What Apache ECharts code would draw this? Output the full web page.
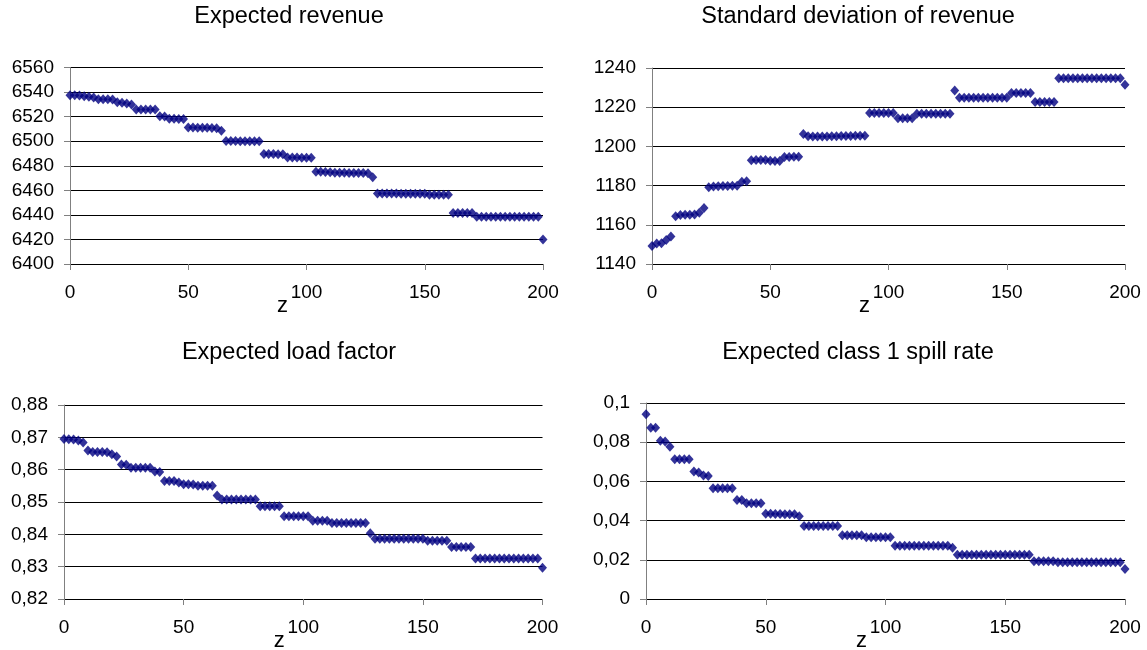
<!DOCTYPE html>
<html>
<head>
<meta charset="utf-8">
<script src="https://cdn.jsdelivr.net/npm/echarts@6/dist/echarts.min.js"></script>
<style>html,body{margin:0;padding:0;background:#fff;}#c{width:1147px;height:650px;}</style>
</head>
<body>
<div id="c"></div>
<script>
const zValues = [0,2,4,6,8,10,12,14,16,18,20,22,24,26,28,30,32,34,36,38,40,42,44,46,48,50,52,54,56,58,60,62,64,66,68,70,72,74,76,78,80,82,84,86,88,90,92,94,96,98,100,102,104,106,108,110,112,114,116,118,120,122,124,126,128,130,132,134,136,138,140,142,144,146,148,150,152,154,156,158,160,162,164,166,168,170,172,174,176,178,180,182,184,186,188,190,192,194,196,198,200];

const expectedRevenue = [6537.5,6537.4,6537.1,6536.6,6536.2,6535.5,6534.2,6534.1,6534.1,6534.0,6531.8,6531.2,6530.6,6529.8,6525.9,6525.8,6525.8,6525.7,6525.7,6520.4,6520.1,6518.3,6518.2,6518.1,6518.1,6511.2,6511.1,6511.0,6510.9,6510.9,6510.8,6510.5,6508.6,6500.2,6500.1,6500.1,6500.0,6500.0,6500.0,6499.9,6499.9,6489.6,6489.5,6489.5,6489.4,6489.3,6486.8,6486.7,6486.7,6486.6,6486.6,6486.5,6475.2,6475.1,6475.0,6474.8,6474.3,6474.2,6474.2,6474.1,6474.1,6474.0,6474.0,6473.9,6470.7,6457.5,6457.5,6457.4,6457.4,6457.4,6457.3,6457.3,6457.3,6457.2,6457.2,6457.2,6456.3,6456.3,6456.3,6456.3,6456.3,6441.6,6441.6,6441.6,6441.6,6441.6,6438.4,6438.4,6438.4,6438.4,6438.4,6438.4,6438.4,6438.4,6438.4,6438.4,6438.4,6438.4,6438.4,6438.4,6420.0];

const revenueStdDev = [1149.2,1150.4,1150.6,1152.3,1154.0,1164.3,1165.0,1165.1,1165.1,1165.2,1166.2,1168.6,1179.1,1179.5,1179.7,1179.8,1179.8,1179.9,1179.9,1182.0,1182.2,1192.9,1193.0,1193.0,1193.0,1192.7,1192.5,1192.6,1194.6,1194.6,1194.7,1194.7,1206.3,1205.2,1205.1,1205.1,1205.1,1205.1,1205.2,1205.2,1205.3,1205.3,1205.3,1205.4,1205.4,1205.4,1217.1,1217.1,1217.1,1217.1,1217.1,1217.1,1214.3,1214.3,1214.3,1214.3,1216.7,1216.7,1216.7,1216.7,1216.7,1216.7,1216.7,1216.7,1228.5,1224.8,1224.8,1224.8,1224.8,1224.8,1224.8,1224.8,1224.8,1224.8,1224.8,1224.8,1227.3,1227.3,1227.3,1227.3,1227.3,1222.7,1222.7,1222.7,1222.7,1222.7,1234.8,1234.8,1234.8,1234.8,1234.8,1234.8,1234.8,1234.8,1234.8,1234.8,1234.8,1234.8,1234.8,1234.8,1231.5];

const loadFactor = [0.8695,0.8694,0.8693,0.8690,0.8684,0.8659,0.8655,0.8655,0.8655,0.8654,0.8648,0.8641,0.8616,0.8615,0.8606,0.8606,0.8606,0.8606,0.8606,0.8594,0.8593,0.8565,0.8565,0.8565,0.8560,0.8555,0.8555,0.8554,0.8550,0.8550,0.8550,0.8550,0.8520,0.8508,0.8508,0.8508,0.8508,0.8508,0.8508,0.8508,0.8508,0.8487,0.8487,0.8487,0.8487,0.8487,0.8456,0.8456,0.8456,0.8456,0.8456,0.8456,0.8442,0.8442,0.8442,0.8442,0.8435,0.8435,0.8435,0.8435,0.8435,0.8435,0.8435,0.8435,0.8403,0.8386,0.8386,0.8386,0.8386,0.8386,0.8386,0.8386,0.8386,0.8386,0.8386,0.8386,0.8380,0.8380,0.8380,0.8380,0.8380,0.8361,0.8361,0.8361,0.8361,0.8361,0.8325,0.8325,0.8325,0.8325,0.8325,0.8325,0.8325,0.8325,0.8325,0.8325,0.8325,0.8325,0.8325,0.8325,0.8297];

const spillRate = [0.0942,0.0874,0.0874,0.0808,0.0803,0.0777,0.0713,0.0713,0.0713,0.0713,0.0651,0.0646,0.0630,0.0627,0.0565,0.0565,0.0565,0.0565,0.0565,0.0505,0.0505,0.0489,0.0489,0.0489,0.0489,0.0435,0.0435,0.0434,0.0434,0.0433,0.0433,0.0433,0.0422,0.0372,0.0372,0.0372,0.0372,0.0372,0.0372,0.0372,0.0372,0.0325,0.0325,0.0325,0.0325,0.0325,0.0315,0.0315,0.0315,0.0315,0.0315,0.0315,0.0272,0.0272,0.0272,0.0272,0.0272,0.0272,0.0272,0.0272,0.0272,0.0272,0.0272,0.0272,0.0261,0.0226,0.0226,0.0226,0.0226,0.0226,0.0226,0.0226,0.0226,0.0226,0.0226,0.0226,0.0226,0.0226,0.0226,0.0226,0.0226,0.0192,0.0192,0.0192,0.0192,0.0192,0.0187,0.0187,0.0187,0.0187,0.0187,0.0187,0.0187,0.0187,0.0187,0.0187,0.0187,0.0187,0.0187,0.0187,0.0153];

const panelTitles = ['Expected revenue','Standard deviation of revenue','Expected load factor','Expected class 1 spill rate'];
const xTicks = {min:0, max:200, interval:50};
const yRanges = [
  {min:6400, max:6560, interval:20},
  {min:1140, max:1240, interval:20},
  {min:0.82, max:0.88, interval:0.01},
  {min:0, max:0.1, interval:0.02}
];
const xAxisName = 'z';

const FONT = "'Liberation Sans', Arial, sans-serif";
const grids = [
  {left:70, top:67.5, width:473, height:196.5},
  {left:652, top:68, width:473, height:196},
  {left:64, top:405, width:478.5, height:194},
  {left:646, top:403, width:479, height:196}
];
const titlePos = [
  {x:289, y:5},{x:858, y:5},{x:289, y:341},{x:858, y:341}
];
const seriesData = [expectedRevenue, revenueStdDev, loadFactor, spillRate];
const comma = v => String(Math.round(v*100)/100).replace('.', ',');
const yFormatters = [v => String(v), v => String(v), comma, comma];

const chart = echarts.init(document.getElementById('c'), null, {renderer:'canvas'});
const option = {
  backgroundColor:'#fff',
  animation:false,
  title: panelTitles.map((t,i)=>({
    text:t, left:titlePos[i].x, top:titlePos[i].y, textAlign:'center', padding:0,
    textStyle:{fontFamily:FONT, fontSize:23.5, fontWeight:'normal', color:'#000'}
  })),
  grid: grids.map(g=>Object.assign({containLabel:false, outerBoundsMode:'none'}, g)),
  xAxis: grids.map((g,i)=>({
    type:'value', gridIndex:i, min:xTicks.min, max:xTicks.max, interval:xTicks.interval,
    name:xAxisName, nameLocation:'middle', nameGap:31, nameMoveOverlap:false,
    nameTextStyle:{fontFamily:FONT, fontSize:22, color:'#000', padding:[0,48,0,0]},
    axisLine:{show:true, onZero:false, lineStyle:{color:'#000', width:1}},
    axisTick:{show:true, length:6, lineStyle:{color:'#808080'}},
    axisLabel:{fontFamily:FONT, fontSize:19, color:'#000', margin:19},
    splitLine:{show:false}
  })),
  yAxis: grids.map((g,i)=>({
    type:'value', gridIndex:i, min:yRanges[i].min, max:yRanges[i].max, interval:yRanges[i].interval,
    axisLine:{show:true, lineStyle:{color:'#808080', width:1}},
    axisTick:{show:true, length:6, lineStyle:{color:'#808080'}},
    axisLabel:{fontFamily:FONT, fontSize:19, color:'#000', margin:16, formatter:yFormatters[i]},
    splitLine:{show:true, lineStyle:{color:'#000', width:1}}
  })),
  series: seriesData.map((d,i)=>({
    type:'scatter', xAxisIndex:i, yAxisIndex:i,
    data: d.map((v,k)=>[zValues[k], v]),
    symbol:'diamond', symbolSize:[9,10],
    itemStyle:{color:'#000080'}
  }))
};
chart.setOption(option);
</script>
</body>
</html>
